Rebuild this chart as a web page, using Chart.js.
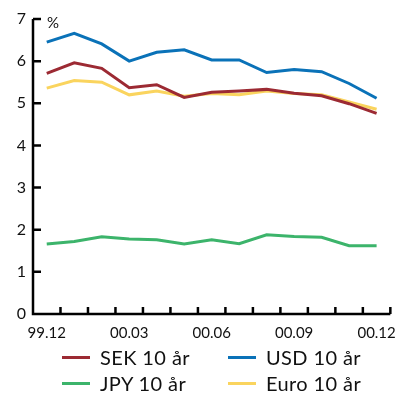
<!DOCTYPE html>
<html lang="sv">
<head>
    <meta charset="UTF-8">
    <title>Långa räntor 10 år</title>
    <style>
        body {
            margin: 0;
            background: #ffffff;
            font-family: Lato, "Open Sans", sans-serif;
        }
        .wrap {
            position: relative;
            width: 406px;
            height: 394px;
        }
        .legend {
            position: absolute;
            left: 62px;
            top: 345px;
            display: grid;
            grid-template-columns: 166px 150px;
            row-gap: 2px;
            font-size: 20px;
            letter-spacing: 0.4px;
            color: #111;
        }
        .legend div {
            display: flex;
            align-items: center;
            height: 24px;
            white-space: nowrap;
        }
        .legend span.swatch {
            display: inline-block;
            width: 28px;
            height: 3px;
            margin-right: 10px;
        }
    </style>
</head>
<body>
    <div class="wrap">
        <canvas id="rateChart" width="406" height="394"></canvas>
        <div class="legend" id="legend"></div>
    </div>

    <script src="https://cdn.jsdelivr.net/npm/chart.js"></script>
    <script>
        // månader dec 1999 - dec 2000
        const months = ['99.12', '00.01', '00.02', '00.03', '00.04', '00.05', '00.06',
                        '00.07', '00.08', '00.09', '00.10', '00.11', '00.12'];
        const sek  = [5.71, 5.96, 5.83, 5.37, 5.44, 5.14, 5.26, 5.29, 5.33, 5.24, 5.18, 4.99, 4.76];
        const usd  = [6.45, 6.66, 6.41, 6.00, 6.21, 6.27, 6.03, 6.03, 5.73, 5.80, 5.75, 5.47, 5.12];
        const jpy  = [1.66, 1.72, 1.83, 1.78, 1.76, 1.66, 1.76, 1.67, 1.88, 1.84, 1.82, 1.62, 1.62];
        const euro = [5.36, 5.54, 5.50, 5.20, 5.29, 5.17, 5.23, 5.20, 5.29, 5.23, 5.20, 5.03, 4.86];
        const yTicks = [0, 1, 2, 3, 4, 5, 6, 7];

        const series = [
            { label: 'SEK 10 år',  data: sek,  color: '#9c2a33' },
            { label: 'USD 10 år',  data: usd,  color: '#0a72b8' },
            { label: 'JPY 10 år',  data: jpy,  color: '#3cb46b' },
            { label: 'Euro 10 år', data: euro, color: '#fad45e' }
        ];

        // axlar och inåtvända streck ritas för hand
        const axisPlugin = {
            id: 'axisPlugin',
            afterDraw(chart) {
                const ctx = chart.ctx;
                const x = chart.scales.x, y = chart.scales.y;
                const left = chart.chartArea.left, right = chart.chartArea.right;
                const top = y.getPixelForValue(7), bottom = y.getPixelForValue(0);
                ctx.save();
                ctx.strokeStyle = '#000';
                ctx.lineWidth = 2.5;
                ctx.beginPath();
                ctx.moveTo(left, top);
                ctx.lineTo(left, bottom);
                ctx.lineTo(right, bottom);
                yTicks.forEach(v => {
                    const py = y.getPixelForValue(v);
                    ctx.moveTo(left, py);
                    ctx.lineTo(left + 8, py);
                });
                const step = (right - left) / months.length;
                for (let i = 1; i <= months.length; i++) {
                    const px = left + i * step;
                    ctx.moveTo(px, bottom);
                    ctx.lineTo(px, bottom - 7);
                }
                ctx.stroke();
                ctx.fillStyle = '#111';
                ctx.font = '15px Lato, sans-serif';
                ctx.textBaseline = 'middle';
                ctx.fillText('%', left + 14, top + 4);
                ctx.restore();
            }
        };

        new Chart(document.getElementById('rateChart'), {
            type: 'line',
            data: {
                labels: months,
                datasets: series.map(s => ({
                    label: s.label,
                    data: s.data,
                    borderColor: s.color,
                    backgroundColor: s.color,
                    borderWidth: 3,
                    pointRadius: 0,
                    tension: 0,
                    fill: false
                }))
            },
            options: {
                responsive: false,
                animation: false,
                layout: { padding: { top: 19, right: 6, left: 0, bottom: 0 } },
                plugins: {
                    legend: { display: false },
                    tooltip: { enabled: false }
                },
                scales: {
                    x: {
                        offset: true,
                        grid: { display: false, drawTicks: false },
                        border: { display: false },
                        ticks: {
                            autoSkip: false,
                            maxRotation: 0,
                            padding: 10,
                            color: '#111',
                            font: { family: 'Lato', size: 15 },
                            callback: (v, i) => (i % 3 === 0 ? months[i] : '')
                        },
                        afterFit: s => { s.height = 80; }
                    },
                    y: {
                        min: 0,
                        max: 7,
                        grid: { display: false, drawTicks: false },
                        border: { display: false },
                        ticks: {
                            stepSize: 1,
                            padding: 7,
                            color: '#111',
                            font: { family: 'Lato', size: 16 }
                        },
                        afterFit: s => { s.width = 33; }
                    }
                }
            },
            plugins: [axisPlugin]
        });

        const legend = document.getElementById('legend');
        series.forEach(s => {
            const item = document.createElement('div');
            item.innerHTML = '<span class="swatch" style="background:' + s.color + '"></span>' + s.label;
            legend.appendChild(item);
        });
    </script>
</body>
</html>
